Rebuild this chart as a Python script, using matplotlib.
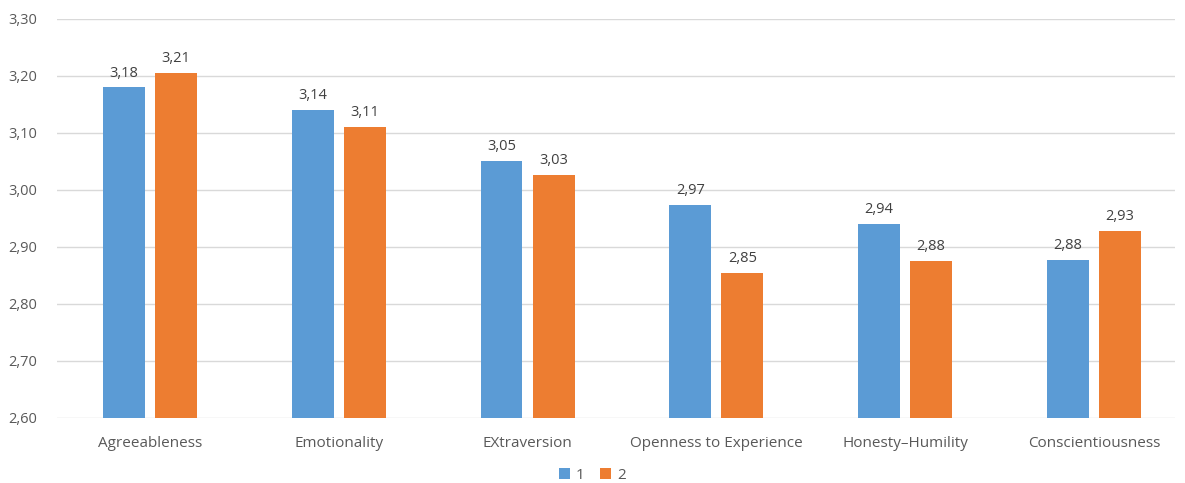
import matplotlib
matplotlib.use("Agg")
import matplotlib.pyplot as plt
import numpy as np

categories = ["Agreeableness", "Emotionality", "EXtraversion", "Openness to Experience",
              "Honesty\u2013Humility", "Conscientiousness"]
series1 = [3.18, 3.14, 3.051, 2.974, 2.940, 2.877]
series2 = [3.206, 3.111, 3.026, 2.854, 2.876, 2.928]
series_names = ["1", "2"]
yticks = [2.60, 2.70, 2.80, 2.90, 3.00, 3.10, 3.20, 3.30]

plt.rcParams['font.family'] = ['Open Sans', 'DejaVu Sans']
txt = "#595959"

fig = plt.figure(figsize=(11.85, 4.83), dpi=100)
ax = fig.add_axes([0.048, 0.1346, 0.9436, 0.8261])

x = np.arange(len(categories))
w = 0.222
off = 0.138
b1 = ax.bar(x - off, [v - 2.6 for v in series1], w, bottom=2.6, color="#5B9BD5", label=series_names[0], zorder=3)
b2 = ax.bar(x + off, [v - 2.6 for v in series2], w, bottom=2.6, color="#ED7D31", label=series_names[1], zorder=3)

for bars, vals in ((b1, series1), (b2, series2)):
    for r, v in zip(bars, vals):
        ax.text(r.get_x() + r.get_width() / 2, v + 0.012, f"{v:.2f}".replace(".", ","),
                ha="center", va="bottom", fontsize=10.5, color="#404040")

ax.set_xlim(-0.493, len(categories) - 0.57)
ax.set_ylim(2.6, 3.3)
ax.set_yticks(yticks)
ax.set_yticklabels([f"{t:.2f}".replace(".", ",") for t in yticks], fontsize=10.5, color=txt)
ax.set_xticks(x)
ax.set_xticklabels(categories, fontsize=11, color=txt)
ax.tick_params(axis="both", length=0)
ax.tick_params(axis="x", pad=13)
ax.tick_params(axis="y", pad=14)
ax.grid(axis="y", color="#D9D9D9", linewidth=1, zorder=0)
for s in ax.spines.values():
    s.set_visible(False)

leg = fig.legend(loc="lower center", bbox_to_anchor=(0.5, -0.028), ncol=2, frameon=False,
                 fontsize=11, handlelength=0.7, handleheight=0.7, handletextpad=0.4,
                 columnspacing=1.0, labelcolor=txt)

fig.savefig("out.png", dpi=100)
